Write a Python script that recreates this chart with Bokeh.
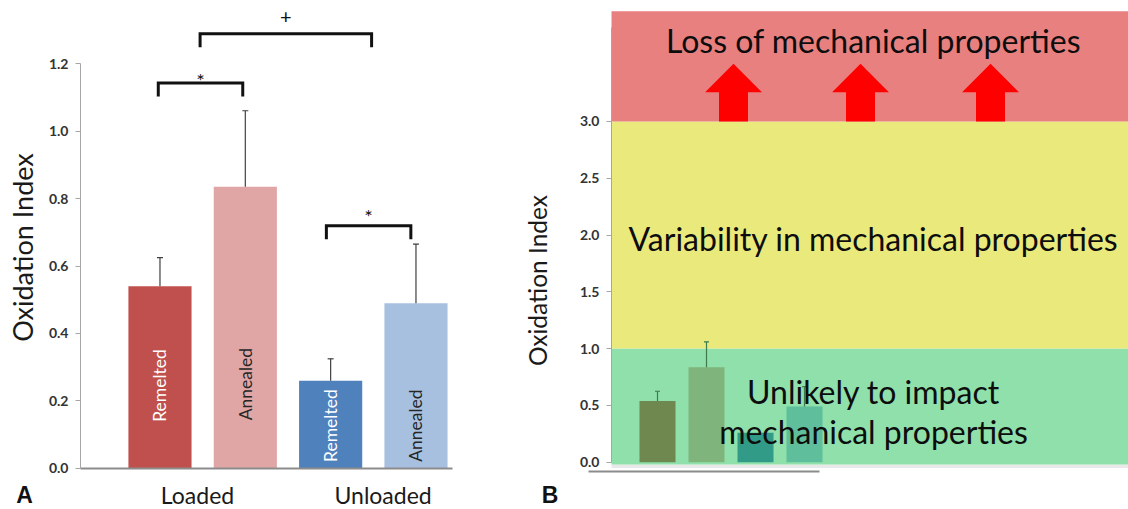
import math
from bokeh.plotting import figure
from bokeh.layouts import row
from bokeh.models import FixedTicker, Label, Range1d, NumeralTickFormatter, LinearAxis
from bokeh.core.properties import value
from bokeh.embed import file_html
from bokeh.resources import INLINE

FONT = "Lato"

# ---------------- data ----------------
bar_names = ["Remelted", "Annealed", "Remelted", "Annealed"]
bar_x = [0, 1, 2, 3]
group_names = ["Loaded", "Unloaded"]
group_x = [0.44, 2.615]
means = [0.54, 0.835, 0.26, 0.49]
errors = [0.085, 0.225, 0.065, 0.175]
colors_a = ["#C0504D", "#E0A6A5", "#4F81BD", "#A8C0DF"]
name_colors = ["#FFFFFF", "#262626", "#FFFFFF", "#262626"]
name_y = [0.246, 0.25, 0.127, 0.127]

bracket_x0 = [-0.02, 0.47, 1.95]
bracket_x1 = [0.97, 2.48, 2.94]
bracket_y = [1.142, 1.288, 0.719]
bracket_marks = ["*", "+", "*"]
mark_y = [1.152, 1.337, 0.747]

a_ticks = [0.0, 0.2, 0.4, 0.6, 0.8, 1.0, 1.2]
b_ticks = [0.0, 0.5, 1.0, 1.5, 2.0, 2.5, 3.0]

zone_bottom = [-0.02, 1.0, 3.0]
zone_top = [1.0, 3.0, 3.97]
zone_colors = ["#8FE0AA", "#EAE97C", "#E88080"]
zone_lines = ["Unlikely to impact", "mechanical properties",
              "Variability in mechanical properties", "Loss of mechanical properties"]
zone_line_y = [0.622, 0.27, 1.97, 3.712]
arrow_x = [1.551, 4.143, 6.796]
colors_b = ["#6E8850", "#80B47D", "#329B87", "#5FBE9B"]
err_b_show = [0, 1, 3]


def y_axis(loc, ticks, bounds):
    ax = LinearAxis(fixed_location=loc, bounds=bounds, ticker=FixedTicker(ticks=ticks),
                    formatter=NumeralTickFormatter(format="0.0"))
    ax.axis_line_color = "#A6A6A6"
    ax.major_tick_line_color = "#A6A6A6"
    ax.major_tick_out = 5
    ax.major_tick_in = 0
    ax.minor_tick_out = 0
    ax.minor_tick_in = 0
    ax.major_label_text_font = FONT
    ax.major_label_text_font_style = "bold"
    ax.major_label_text_font_size = "14px"
    ax.major_label_text_color = "#333333"
    ax.major_label_standoff = 7
    return ax


def add_label(p, x, y, text, size, color="#111111", angle=0.0, bold=False, font=FONT):
    p.add_layout(Label(x=x, y=y, text=text, text_font=font, text_font_size=f"{size}px",
                       text_color=color, angle=angle, text_align="center",
                       text_baseline="middle",
                       text_font_style="bold" if bold else "normal"))


def base_fig(w, h, xr, yr):
    p = figure(width=w, height=h, x_range=Range1d(*xr), y_range=Range1d(*yr),
               x_axis_type=None, y_axis_type=None,
               output_backend="svg", toolbar_location=None,
               min_border_left=0, min_border_right=0, min_border_top=0, min_border_bottom=0)
    p.outline_line_color = None
    p.grid.visible = False
    p.background_fill_color = "white"
    return p


# ---------------- panel A ----------------
pa = base_fig(520, 509, (-1.869, 4.225), (-0.1215, 1.3867))
pa.add_layout(y_axis(-0.932, a_ticks, (0, 1.2)), "left")
xa = LinearAxis(fixed_location=0, bounds=(-0.932, 3.428), ticker=FixedTicker(ticks=group_x),
                major_label_overrides={gx: gn for gx, gn in zip(group_x, group_names)})
xa.axis_line_color = "#8C8C8C"
xa.axis_line_width = 2
xa.major_tick_out = 0
xa.major_tick_in = 0
xa.minor_tick_out = 0
xa.minor_tick_in = 0
xa.major_label_text_font = FONT
xa.major_label_text_font_size = "23px"
xa.major_label_text_color = "#1A1A1A"
xa.major_label_standoff = 13
pa.add_layout(xa, "below")

pa.vbar(x=bar_x, top=means, width=0.74, fill_color=colors_a, line_color=None)
uppers = [m + e for m, e in zip(means, errors)]
pa.segment(x0=bar_x, y0=means, x1=bar_x, y1=uppers, line_color="#404040", line_width=1.2)
pa.dash(x=bar_x, y=uppers, size=6, line_color="#404040", line_width=1.2)
pa.text(x=bar_x, y=name_y, text=bar_names, angle=math.pi / 2, text_align="center",
        text_baseline="middle", text_font=value(FONT), text_font_size="17.5px",
        text_color=name_colors)

leg = 0.04
bxs = [[a, a, b, b] for a, b in zip(bracket_x0, bracket_x1)]
bys = [[y - leg, y, y, y - leg] for y in bracket_y]
pa.multi_line(xs=bxs, ys=bys, line_color="#111111", line_width=3, line_join="miter")
pa.text(x=[(a + b) / 2 for a, b in zip(bracket_x0, bracket_x1)], y=mark_y,
        text=bracket_marks, text_align="center", text_baseline="middle",
        text_font=value(FONT), text_font_size="20px", text_color="#111111")

add_label(pa, -1.611, 0.655, "Oxidation Index", 27, color="#1A1A1A", angle=math.pi / 2)
add_label(pa, -1.588, -0.079, "A", 23, color="#111111", bold=True, font="Liberation Sans")

# ---------------- panel B ----------------
pb = base_fig(608, 509, (-2.796, 9.612), (-0.416, 4.064))

pb.quad(left=-0.939, right=10, bottom=-0.05, top=-0.02, fill_color="#D9D9D9",
        fill_alpha=0.6, line_color=None)
pb.quad(left=[-0.939] * 3, right=[10] * 3, bottom=zone_bottom, top=zone_top,
        fill_color=zone_colors, line_color=None)

hw, sw, head_h, tip_h = 0.58, 0.296, 0.257, 0.507
axs, ays = [], []
for cx in arrow_x:
    base = zone_bottom[2]
    axs.append([cx - sw, cx - sw, cx - hw, cx, cx + hw, cx + sw, cx + sw])
    ays.append([base, base + head_h, base + head_h, base + tip_h, base + head_h, base + head_h, base])
pb.patches(xs=axs, ys=ays, fill_color="#FF0000", line_color=None)

pb.vbar(x=bar_x, top=means, width=0.735, fill_color=colors_b, line_color=None)
ex = [bar_x[i] for i in err_b_show]
em = [means[i] for i in err_b_show]
eu = [uppers[i] for i in err_b_show]
pb.segment(x0=ex, y0=em, x1=ex, y1=eu, line_color="#3E7A4C", line_width=1.2)
pb.dash(x=ex, y=eu, size=5, line_color="#3E7A4C", line_width=1.2)

pb.add_layout(y_axis(-0.939, b_ticks, (0, 3.83)), "left")
xb = LinearAxis(fixed_location=-0.082, bounds=(-1.408, 3.306), ticker=FixedTicker(ticks=[]))
xb.axis_line_color = "#8C8C8C"
xb.axis_line_width = 2
xb.major_tick_out = 0
xb.minor_tick_out = 0
xb.major_label_text_font_size = "0px"
pb.add_layout(xb, "below")

for t, y in zip(zone_lines, zone_line_y):
    add_label(pb, 4.408, y, t, 32, color="#0D0D0D")

add_label(pb, -2.449, 1.6, "Oxidation Index", 24.5, color="#1A1A1A", angle=math.pi / 2)
add_label(pb, -2.194, -0.29, "B", 23, color="#111111", bold=True, font="Liberation Sans")

layout = row(pa, pb, spacing=0)
open("out.html", "w").write(file_html(layout, INLINE))
